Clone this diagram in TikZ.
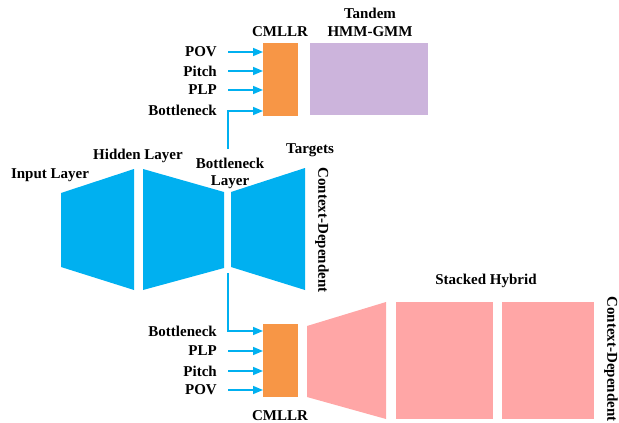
\documentclass[tikz,border=0pt]{standalone}
\usepackage{fontspec}
\setmainfont{Liberation Serif}
\usetikzlibrary{arrows.meta}
\definecolor{nnblue}{HTML}{00B0F0}
\definecolor{cmorange}{HTML}{F79646}
\definecolor{gmmpurple}{HTML}{CCB4DC}
\definecolor{hybpink}{HTML}{FFA6A6}
\tikzset{
  lbl/.style={font=\fontsize{15}{16}\selectfont\bfseries, inner sep=0pt},
  feat/.style={lbl, anchor=east},
  arr/.style={draw=nnblue, line width=1.5pt, -{Triangle[length=10pt,width=8pt]}},
  blk/.style={inner sep=0pt, anchor=north west},
}
\begin{document}
\begin{tikzpicture}[x=1pt,y=-1pt]
\useasboundingbox (0,0) rectangle (619,423);
% ---- top branch
\node[blk, fill=cmorange, minimum width=35pt, minimum height=73pt] (cm1) at (263,43) {};
\node[blk, fill=gmmpurple, minimum width=118pt, minimum height=72pt] (gmm) at (310,43) {};
\node[lbl] (cm1l) at (280,32) {CMLLR};
\node[lbl] (tand) at (370,13) {Tandem};
\node[lbl] (hmm) at (370,32) {HMM-GMM};
\node[feat] (pov1) at (217,52) {POV};
\node[feat] (pit1) at (217,71) {Pitch};
\node[feat] (plp1) at (217,90) {PLP};
\node[feat] (bn1) at (217,110) {Bottleneck};
\coordinate (a1) at (228,52);
\coordinate (a2) at (228,71);
\coordinate (a3) at (228,90);
\coordinate (a4) at (228,111);
\coordinate (bt) at (228,149);
\draw[arr] (a1) -- (a1 -| cm1.west);
\draw[arr] (a2) -- (a2 -| cm1.west);
\draw[arr] (a3) -- (a3 -| cm1.west);
\draw[arr] (bt) -- (a4) -- (a4 -| cm1.west);
% ---- network
\fill[nnblue] (61,193) -- (134,169) -- (134,290) -- (61,267) -- cycle;
\fill[nnblue] (143,169) -- (224,192) -- (224,268) -- (143,290) -- cycle;
\fill[nnblue] (231,192) -- (305,168) -- (305,290) -- (231,267) -- cycle;
\node[lbl] (inl) at (50,175) {Input Layer};
\node[lbl] (hid) at (138,156) {Hidden Layer};
\node[lbl] (bnl) at (230,163) {Bottleneck};
\node[lbl] (bnl2) at (230,182) {Layer};
\node[lbl] (tgt) at (310,150) {Targets};
\node[lbl, rotate=-90] (cd1) at (322,230) {Context-Dependent};
% ---- bottom branch
\node[blk, fill=cmorange, minimum width=35pt, minimum height=73pt] (cm2) at (263,324) {};
\node[lbl] (cm2l) at (280,415.5) {CMLLR};
\node[feat] (bn2) at (217,331) {Bottleneck};
\node[feat] (plp2) at (217,351) {PLP};
\node[feat] (pit2) at (217,371) {Pitch};
\node[feat] (pov2) at (217,390) {POV};
\coordinate (bb) at (228,273);
\coordinate (c1) at (228,331);
\coordinate (c2) at (228,351);
\coordinate (c3) at (228,371);
\coordinate (c4) at (228,390);
\draw[arr] (bb) -- (c1) -- (c1 -| cm2.west);
\draw[arr] (c2) -- (c2 -| cm2.west);
\draw[arr] (c3) -- (c3 -| cm2.west);
\draw[arr] (c4) -- (c4 -| cm2.west);
\fill[hybpink] (307,326) -- (386,302) -- (386,419) -- (307,397) -- cycle;
\node[blk, fill=hybpink, minimum width=97pt, minimum height=117pt] (h2) at (396,302) {};
\node[blk, fill=hybpink, minimum width=92pt, minimum height=117pt] (h3) at (502,302) {};
\node[lbl] (sh) at (486,281) {Stacked Hybrid};
\node[lbl, rotate=-90] (cd2) at (611,359) {Context-Dependent};
\end{tikzpicture}
\end{document}
